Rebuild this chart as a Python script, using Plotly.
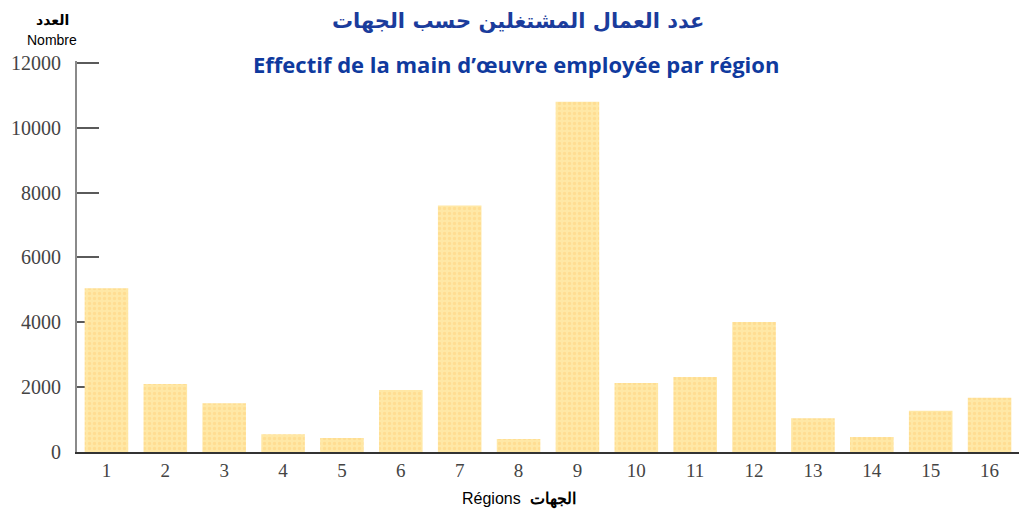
import plotly.graph_objects as go

regions = [str(i) for i in range(1, 17)]
workers = [5050, 2100, 1500, 550, 430, 1910, 7600, 400, 10800, 2130, 2310, 4010, 1040, 460, 1270, 1670]
y_ticks = [0, 2000, 4000, 6000, 8000, 10000, 12000]

title_ar = "عدد العمال المشتغلين حسب الجهات"
title_fr = "Effectif de la main d’œuvre employée par région"

fig = go.Figure(
    go.Bar(
        x=list(range(1, 17)),
        y=workers,
        marker=dict(
            color="#FFE6A0",
            line=dict(width=0),
            pattern=dict(shape=".", fgcolor="#FFD27E", bgcolor="#FFE8A6", size=5, solidity=0.35),
        ),
        width=0.74,
        hoverinfo="x+y",
    )
)

fig.update_layout(
    width=1019,
    height=513,
    margin=dict(l=77, r=0, t=61, b=61),
    paper_bgcolor="white",
    plot_bgcolor="white",
    showlegend=False,
    xaxis=dict(
        range=[0.5, 16.5],
        tickmode="array",
        tickvals=list(range(1, 17)),
        ticktext=regions,
        showgrid=False,
        zeroline=False,
        showline=True,
        linecolor="#333333",
        linewidth=2,
        ticks="",
        layer="below traces",
        tickfont=dict(family="Liberation Serif", size=19, color="#444444"),
    ),
    yaxis=dict(
        range=[0, 12060],
        tickmode="array",
        tickvals=y_ticks,
        ticktext=[str(v) for v in y_ticks],
        showgrid=False,
        zeroline=False,
        showline=True,
        linecolor="#8a8a8a",
        linewidth=2,
        ticks="inside",
        ticklen=22,
        tickwidth=2,
        tickcolor="#5a5a5a",
        ticklabelstandoff=10,
        layer="below traces",
        tickfont=dict(family="Liberation Serif", size=20, color="#444444"),
    ),
    annotations=[
        dict(text=title_ar, x=518, y=21, showarrow=False,
             font=dict(family="DejaVu Sans", size=21, color="#1B3C9C", weight="bold")),
        dict(text=title_fr, x=516, y=64, showarrow=False,
             font=dict(family="Open Sans", size=22, color="#0F3A9E", weight="bold")),
        dict(text="العدد", x=52, y=20, showarrow=False,
             font=dict(family="DejaVu Sans", size=14, color="#000000", weight="bold")),
        dict(text="Nombre", x=52, y=40, showarrow=False,
             font=dict(family="Liberation Sans", size=14, color="#000000")),
        dict(text="Régions  <b>الجهات</b>", x=519, y=500, showarrow=False,
             font=dict(family="Liberation Sans", size=16, color="#000000")),
    ],
)

# place the text annotations in pixel coordinates of the page
plot_top, plot_bottom = 61, 452
for ann in fig.layout.annotations:
    px, py = ann.x, ann.y
    ann.xref = "paper"
    ann.yref = "paper"
    ann.x = (px - 77) / (1019 - 77)
    ann.y = (plot_bottom - py) / (plot_bottom - plot_top)
    ann.xanchor = "center"
    ann.yanchor = "middle"

fig.write_html("out.html")
